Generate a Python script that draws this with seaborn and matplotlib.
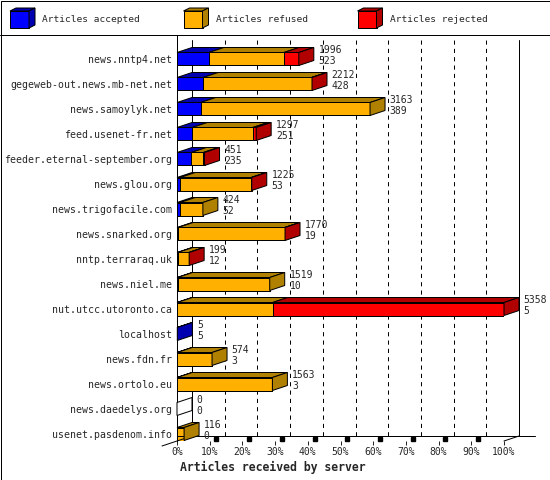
import matplotlib
matplotlib.use('Agg')
import matplotlib.pyplot as plt
import seaborn as sns
from matplotlib.patches import Polygon, Rectangle
from matplotlib.lines import Line2D

# Dados
servers = ['news.nntp4.net', 'gegeweb-out.news.mb-net.net', 'news.samoylyk.net',
           'feed.usenet-fr.net', 'feeder.eternal-september.org', 'news.glou.org',
           'news.trigofacile.com', 'news.snarked.org', 'nntp.terraraq.uk',
           'news.niel.me', 'nut.utcc.utoronto.ca', 'localhost', 'news.fdn.fr',
           'news.ortolo.eu', 'news.daedelys.org', 'usenet.pasdenom.info']
accepted = [523, 428, 389, 251, 235, 53, 52, 19, 12, 10, 5, 5, 3, 3, 0, 0]
refused = [1229, 1776, 2774, 990, 197, 1162, 372, 1746, 182, 1509, 1562, 0, 571, 1560, 0, 116]
rejected = [244, 8, 0, 56, 19, 10, 0, 5, 5, 0, 3791, 0, 0, 0, 0, 0]
legend_labels = ['Articles accepted', 'Articles refused', 'Articles rejected']
pct_ticks = list(range(0, 101, 10))

front = ['#0000FF', '#FFB000', '#FF0000']
dark = ['#0000B0', '#B08000', '#B00000']

sns.set_style('white')
plt.rcParams['font.family'] = ['DejaVu Sans Mono']
plt.rcParams['lines.scale_dashes'] = False

totals = [a + r + j for a, r, j in zip(accepted, refused, rejected)]
vmax = max(totals)
pct = lambda v: v / vmax * 100

fig = plt.figure(figsize=(5.5, 4.8), dpi=100)
W, H = 550, 480
ax = fig.add_axes([177 / W, 1 - 441 / H, 327 / W, 406 / H])

# profundidade 3D em unidades de dados (15 px em x, 5 px em y)
DX = 15 / 327 * 100
DY = 5 / 25
BH = 0.52
lw = 0.72

# faces frontais: barras cumulativas sobrepostas
cum_rej = [pct(t) for t in totals]
cum_ref = [pct(a + r) for a, r in zip(accepted, refused)]
cum_acc = [pct(a) for a in accepted]
for vals, c in [(cum_rej, front[2]), (cum_ref, front[1]), (cum_acc, front[0])]:
    sns.barplot(x=vals, y=servers, orient='h', width=BH, color=c, saturation=1,
                edgecolor='black', linewidth=lw, ax=ax)

ytop_lim, ybot_lim = -0.96, 15.28
ax.set_xlim(0, 100)
ax.set_ylim(ybot_lim, ytop_lim)

# faces de cima e lateral
for i in range(len(servers)):
    segs = [(0, accepted[i]), (accepted[i], accepted[i] + refused[i]),
            (accepted[i] + refused[i], totals[i])]
    yt, yb = i - BH / 2, i + BH / 2
    last = None
    for k, (s0, s1) in enumerate(segs):
        if s1 > s0:
            x0, x1 = pct(s0), pct(s1)
            ax.add_patch(Polygon([(x0, yt), (x1, yt), (x1 + DX, yt - DY), (x0 + DX, yt - DY)],
                                 closed=True, facecolor=dark[k], edgecolor='black',
                                 linewidth=lw, clip_on=False, zorder=3))
            last = k
    xe = pct(totals[i])
    ax.add_patch(Polygon([(xe, yt), (xe, yb), (xe + DX, yb - DY), (xe + DX, yt - DY)],
                         closed=True, facecolor=dark[last] if last is not None else 'white',
                         edgecolor='black', linewidth=lw, clip_on=False, zorder=3))
    ax.text(xe + DX + 4.7 / 327 * 100, i - 0.14, f'{totals[i]}\n{accepted[i]}',
            fontsize=7, va='center', ha='left', linespacing=1.05, clip_on=False)

# parede do fundo
yback_top = -0.76
for p in pct_ticks[1:-1]:
    ax.add_line(Line2D([p + DX, p + DX], [yback_top, ybot_lim - DY], color='black',
                       lw=lw, dashes=(3, 3), clip_on=False, zorder=0))
for p in [0, 100]:
    ax.add_line(Line2D([p + DX, p + DX], [yback_top, ybot_lim - DY], color='black',
                       lw=lw, clip_on=False, zorder=0))
ax.add_line(Line2D([0, (535 - 177) / 327 * 100], [ybot_lim - DY] * 2, color='black',
                   lw=lw, clip_on=False))
ax.add_line(Line2D([-DX, DX], [ybot_lim + DY, ybot_lim - DY], color='black', lw=lw, clip_on=False))
ax.add_line(Line2D([100, 100 + DX], [ybot_lim, ybot_lim - DY], color='black', lw=lw, clip_on=False))
for p in pct_ticks[1:-1]:
    ax.plot([p + DX * 0.45], [ybot_lim - DY * 0.5], marker='s', ms=2.2, color='black',
            clip_on=False)

ax.set_xticks(pct_ticks)
ax.set_xticklabels([f'{p}%' for p in pct_ticks], fontsize=7)
ax.tick_params(axis='x', length=3, width=lw, direction='out', pad=1, bottom=True)
ax.tick_params(axis='y', length=0, pad=3.6, labelsize=7.1)
ax.set_xlabel('')
ax.set_ylabel('')
for s in ['top', 'right', 'bottom']:
    ax.spines[s].set_visible(False)
ax.spines['left'].set_linewidth(lw)
ax.spines['left'].set_color('black')

fig.text(180 / W, 1 - 467 / H, 'Articles received by server', fontsize=8.3,
         fontweight='bold', ha='left', va='center')

# legenda com cubos
lax = fig.add_axes([0, 1 - 35 / H, 1, 35 / H])
lax.set_xlim(0, W)
lax.set_ylim(35, 0)
lax.axis('off')
for k, x in enumerate([10, 183.5, 357.5]):
    lax.add_patch(Rectangle((x, 11), 19, 17, facecolor=front[k], edgecolor='black', lw=lw))
    lax.add_patch(Polygon([(x, 11), (x + 19, 11), (x + 25, 8), (x + 6, 8)],
                          facecolor=dark[k], edgecolor='black', lw=lw))
    lax.add_patch(Polygon([(x + 19, 11), (x + 19, 28), (x + 25, 25), (x + 25, 8)],
                          facecolor=dark[k], edgecolor='black', lw=lw))
    lax.text(x + 32.5, 20, legend_labels[k], fontsize=6.8, va='center', ha='left')

fig.add_artist(Line2D([0, 1], [1 - 35 / H] * 2, color='black', lw=lw, transform=fig.transFigure))
fig.add_artist(Rectangle((0.5 / W, 0.5 / H), 549 / W, 479 / H, fill=False,
                         edgecolor='black', lw=lw, transform=fig.transFigure))

fig.savefig('out.png', dpi=100, facecolor='white')
